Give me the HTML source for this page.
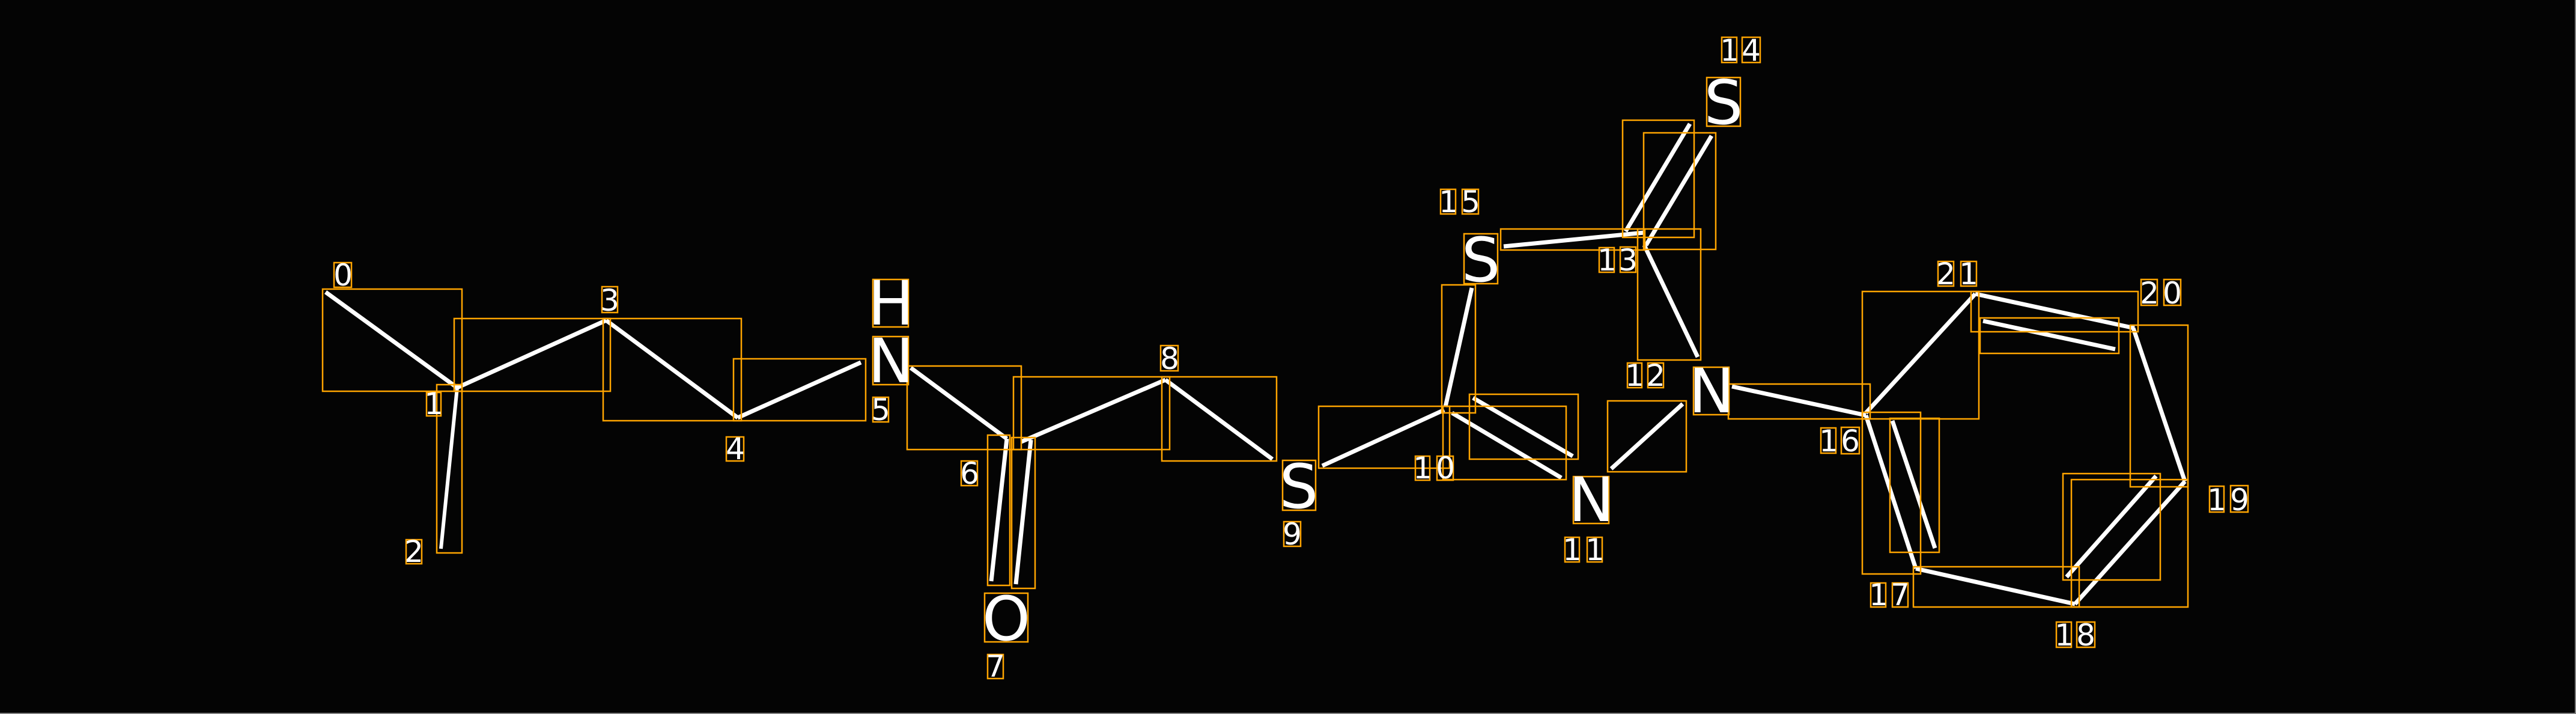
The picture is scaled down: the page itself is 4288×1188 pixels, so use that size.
<!DOCTYPE html>
<html><head><meta charset="utf-8"><style>
html,body{margin:0;padding:0;background:#000;}
svg{display:block}
text{font-family:"DejaVu Sans","Liberation Sans",sans-serif;fill:#fff;text-anchor:middle}
</style></head><body>
<svg width="4288" height="1188" viewBox="0 0 4288 1188" xmlns="http://www.w3.org/2000/svg">
<rect x="0" y="0" width="4288" height="1188" fill="#040404"/>
<line x1="4287" y1="0" x2="4287" y2="1188" stroke="#808080" stroke-width="2"/>
<line x1="0" y1="1187" x2="4288" y2="1187" stroke="#808080" stroke-width="2"/>
<g stroke="#fff" stroke-width="7" stroke-linecap="butt" fill="none">
<line x1="542" y1="486" x2="761" y2="645"/>
<line x1="761" y1="645" x2="734" y2="913" stroke-width="6"/>
<line x1="761" y1="645" x2="1009" y2="533"/>
<line x1="1009" y1="533" x2="1228" y2="695"/>
<line x1="1228" y1="695" x2="1433" y2="603"/>
<line x1="1516" y1="612" x2="1676" y2="730"/>
<line x1="1676" y1="730" x2="1650" y2="967"/>
<line x1="1716" y1="732" x2="1691" y2="972"/>
<line x1="1700" y1="735" x2="1940" y2="632"/>
<line x1="1940" y1="632" x2="2118" y2="764"/>
<line x1="2201" y1="775" x2="2404" y2="682"/>
<line x1="2406" y1="677" x2="2450" y2="479"/>
<line x1="2417" y1="687" x2="2599" y2="795"/>
<line x1="2452" y1="662" x2="2618" y2="759"/>
<line x1="2682" y1="780" x2="2801" y2="672"/>
<line x1="2503" y1="410" x2="2737" y2="387"/>
<line x1="2706" y1="385" x2="2813" y2="206"/>
<line x1="2740" y1="408" x2="2849" y2="226"/>
<line x1="2737" y1="408" x2="2826" y2="594"/>
<line x1="2883" y1="643" x2="3106" y2="691"/>
<line x1="3106" y1="687" x2="3288" y2="489"/>
<line x1="3288" y1="489" x2="3553" y2="546"/>
<line x1="3301" y1="534" x2="3521" y2="581"/>
<line x1="3551" y1="546" x2="3637" y2="801"/>
<line x1="3637" y1="801" x2="3454" y2="1005"/>
<line x1="3589" y1="792" x2="3440" y2="960"/>
<line x1="3454" y1="1005" x2="3189" y2="946"/>
<line x1="3189" y1="946" x2="3106" y2="691"/>
<line x1="3221" y1="912" x2="3150" y2="700"/>
</g>
<g stroke="#FFA500" stroke-width="2.5" fill="none">
<rect x="537" y="481" width="232" height="170"/>
<rect x="727" y="640" width="42" height="280"/>
<rect x="756" y="530" width="260" height="121"/>
<rect x="1004" y="530" width="230" height="170"/>
<rect x="1221" y="597" width="220" height="103"/>
<rect x="1510" y="609" width="190" height="139"/>
<rect x="1644" y="724" width="37" height="250"/>
<rect x="1684" y="728" width="39" height="251"/>
<rect x="1687" y="627" width="260" height="121"/>
<rect x="1934" y="627" width="191" height="140"/>
<rect x="2195" y="676" width="218" height="103"/>
<rect x="2400" y="474" width="56" height="213"/>
<rect x="2402" y="676" width="205" height="122"/>
<rect x="2446" y="656" width="181" height="108"/>
<rect x="2676" y="667" width="131" height="118"/>
<rect x="2498" y="381" width="240" height="35"/>
<rect x="2701" y="200" width="119" height="195"/>
<rect x="2736" y="221" width="120" height="194"/>
<rect x="2726" y="381" width="105" height="218"/>
<rect x="2877" y="639" width="236" height="58"/>
<rect x="3100" y="485" width="194" height="212"/>
<rect x="3281" y="485" width="278" height="67"/>
<rect x="3296" y="529" width="231" height="59"/>
<rect x="3546" y="541" width="96" height="269"/>
<rect x="3448" y="798" width="194" height="212"/>
<rect x="3434" y="788" width="162" height="177"/>
<rect x="3185" y="943" width="276" height="67"/>
<rect x="3100" y="686" width="97" height="269"/>
<rect x="3146" y="696" width="82" height="223"/>
<rect x="1453" y="465" width="59" height="79"/>
<rect x="1453" y="560" width="59" height="80"/>
<rect x="1639" y="987" width="72" height="81"/>
<rect x="2135" y="766" width="55" height="83"/>
<rect x="2437" y="389" width="56" height="83"/>
<rect x="2841" y="129" width="56" height="81"/>
<rect x="2619" y="793" width="59" height="78"/>
<rect x="2819" y="611" width="59" height="79"/>
<rect x="556" y="437" width="29" height="41"/>
<rect x="710" y="653" width="24" height="39"/>
<rect x="676" y="898" width="26" height="40"/>
<rect x="1002" y="477" width="26" height="43"/>
<rect x="1209" y="727" width="29" height="40"/>
<rect x="1453" y="661" width="26" height="41"/>
<rect x="1600" y="767" width="27" height="41"/>
<rect x="1644" y="1089" width="26" height="40"/>
<rect x="1932" y="575" width="29" height="42"/>
<rect x="2137" y="868" width="28" height="41"/>
<rect x="2356" y="759" width="24" height="40"/><rect x="2392" y="759" width="27" height="40"/>
<rect x="2605" y="894" width="24" height="41"/><rect x="2642" y="894" width="25" height="41"/>
<rect x="2709" y="604" width="24" height="41"/><rect x="2743" y="604" width="26" height="41"/>
<rect x="2662" y="412" width="25" height="41"/><rect x="2697" y="411" width="26" height="42"/>
<rect x="2866" y="62" width="25" height="42"/><rect x="2900" y="62" width="30" height="42"/>
<rect x="2398" y="315" width="25" height="41"/><rect x="2434" y="315" width="27" height="41"/>
<rect x="3031" y="712" width="25" height="42"/><rect x="3065" y="711" width="30" height="44"/>
<rect x="3114" y="970" width="25" height="40"/><rect x="3150" y="970" width="26" height="40"/>
<rect x="3423" y="1035" width="25" height="42"/><rect x="3457" y="1035" width="30" height="42"/>
<rect x="3678" y="809" width="24" height="43"/><rect x="3713" y="808" width="29" height="44"/>
<rect x="3564" y="465" width="27" height="43"/><rect x="3602" y="465" width="28" height="43"/>
<rect x="3226" y="435" width="26" height="41"/><rect x="3264" y="435" width="26" height="41"/>
</g>
<g font-size="102">
<text x="1483" y="540">H</text>
<text x="1483" y="636">N</text>
<text x="1675" y="1065">O</text>
<text x="2162" y="845">S</text>
<text x="2465" y="468">S</text>
<text x="2869" y="206">S</text>
<text x="2649" y="867">N</text>
<text x="2849" y="686">N</text>
</g>
<g font-size="50">
<text x="571" y="475">0</text>
<text x="722" y="689">1</text>
<text x="689" y="935">2</text>
<text x="1015" y="517">3</text>
<text x="1224" y="764">4</text>
<text x="1466" y="699">5</text>
<text x="1614" y="805">6</text>
<text x="1657" y="1126">7</text>
<text x="1947" y="614">8</text>
<text x="2151" y="906">9</text>
<text x="2368" y="796">1</text><text x="2406" y="796">0</text>
<text x="2617" y="932">1</text><text x="2655" y="932">1</text>
<text x="2721" y="642">1</text><text x="2756" y="642">2</text>
<text x="2675" y="450">1</text><text x="2710" y="450">3</text>
<text x="2879" y="101">1</text><text x="2915" y="101">4</text>
<text x="2411" y="353">1</text><text x="2448" y="353">5</text>
<text x="3044" y="751">1</text><text x="3080" y="751">6</text>
<text x="3127" y="1007">1</text><text x="3163" y="1007">7</text>
<text x="3436" y="1074">1</text><text x="3472" y="1074">8</text>
<text x="3690" y="849">1</text><text x="3728" y="849">9</text>
<text x="3578" y="505">2</text><text x="3616" y="505">0</text>
<text x="3239" y="473">2</text><text x="3277" y="473">1</text>
</g>
</svg>
</body></html>
